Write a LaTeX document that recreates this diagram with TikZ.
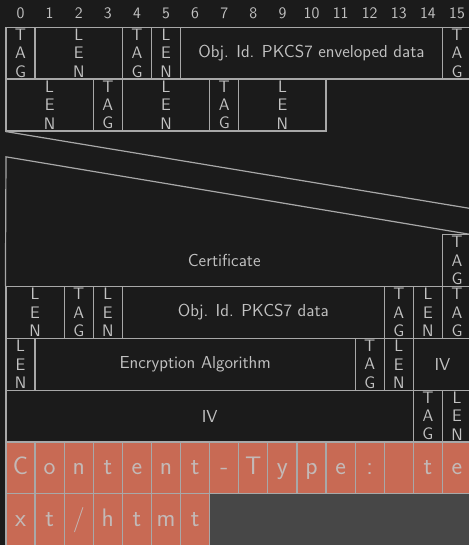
\documentclass[tikz,border=0pt]{standalone}
\usepackage{tikz}
\usetikzlibrary{positioning}
\usepackage{xcolor}
\definecolor{bgdark}{HTML}{1B1B1B}
\definecolor{rulegray}{HTML}{A8A8A8}
\definecolor{txtgray}{HTML}{C2C2C2}
\definecolor{salmon}{HTML}{C86A54}
\definecolor{restgray}{HTML}{474747}
\newlength{\colw}\setlength{\colw}{21.825pt}
\newlength{\rowh}\setlength{\rowh}{38.89pt}
\newcommand{\fieldfont}{\sffamily\fontsize{13}{14.3}\selectfont}
\newcommand{\stackfont}{\sffamily\fontsize{12.5}{13.7}\selectfont}
\newcommand{\tagtxt}{\stackfont T\\A\\G}
\newcommand{\lentxt}{\stackfont L\\E\\N}
\tikzset{
  field/.style    = {draw=rulegray, line width=0.9pt, inner sep=0pt,
                     minimum height=\rowh, minimum width=#1\colw,
                     text=txtgray, align=center, font=\fieldfont},
  field/.default  = 1,
  stack/.style    = {field=#1, font=\stackfont},
  stack/.default  = 1,
  bitnum/.style   = {text=txtgray, font=\sffamily\fontsize{12}{14}\selectfont},
  charcell/.style = {field, fill=salmon, text=txtgray!90!salmon,
                     font=\sffamily\fontsize{19}{21}\selectfont,
                     text height=10pt, text depth=0pt},
  rule/.style     = {draw=rulegray, line width=0.9pt},
}

\begin{document}
\begin{tikzpicture}[x=\colw,y=-\rowh]
\coordinate (frameNW) at (-0.2062,-0.5246);
\coordinate (frameSE) at (15.9107,9.9865);
\useasboundingbox (frameNW) rectangle (frameSE);
\fill[bgdark] (frameNW) rectangle (frameSE);
\clip (frameNW) rectangle (frameSE);
% bit numbers
\foreach \i in {0,...,15}
  \node[bitnum] (b\i) at (\i+0.5,-0.274) {\i};
% first two words
\node[stack] (tag0) at (0.5,0.5) {\tagtxt};
\node[stack=3] (len0) at (2.5,0.5) {\lentxt};
\node[stack] (tag1) at (4.5,0.5) {\tagtxt};
\node[stack] (len1) at (5.5,0.5) {\lentxt};
\node[field=9] (oidenv) at (10.5,0.5) {Obj. Id. PKCS7 enveloped data};
\node[stack] (tag2) at (15.5,0.5) {\tagtxt};
\node[stack=3] (len2) at (1.5,1.5) {\lentxt};
\node[stack] (tag3) at (3.5,1.5) {\tagtxt};
\node[stack=3] (len3) at (5.5,1.5) {\lentxt};
\node[stack] (tag4) at (7.5,1.5) {\tagtxt};
\node[stack=3] (len4) at (9.5,1.5) {\lentxt};
% certificate, skipped words
\node[stack] (tag5) at (15.5,4.5) {\tagtxt};
\node[text=txtgray, font=\fieldfont] (cert) at (7.5,4.5) {Certificate};
\coordinate (skipA) at (16,3.5);
\coordinate (skipB) at (16,4);
\coordinate (certtop) at (0,2.5);
\node[stack=2] (len5) at (1,5.5) {\lentxt};
\draw[rule] (len2.south west) -- (skipA);
\draw[rule] (skipB) -- (certtop) -- (len5.north west);
% content info
\node[stack] (tag6) at (2.5,5.5) {\tagtxt};
\node[stack] (len6) at (3.5,5.5) {\lentxt};
\node[field=9] (oiddata) at (8.5,5.5) {Obj. Id. PKCS7 data};
\node[stack] (tag7) at (13.5,5.5) {\tagtxt};
\node[stack] (len7) at (14.5,5.5) {\lentxt};
\node[stack] (tag8) at (15.5,5.5) {\tagtxt};
\node[stack] (len8) at (0.5,6.5) {\lentxt};
\node[field=11] (encalg) at (6.5,6.5) {Encryption Algorithm};
\node[stack] (tag9) at (12.5,6.5) {\tagtxt};
\node[stack] (len9) at (13.5,6.5) {\lentxt};
\node[field=2] (iv0) at (15,6.5) {IV};
\node[field=14] (iv1) at (7,7.5) {IV};
\node[stack] (tag10) at (14.5,7.5) {\tagtxt};
\node[stack] (len10) at (15.5,7.5) {\lentxt};
% encrypted content, one byte per cell
\foreach \ch [count=\i from 0] in {C,o,n,t,e,n,t,-,T,y,p,e,:,{},t,e}
  \node[charcell] (c\i) at (\i+0.5,8.5) {\ch};
\foreach \ch [count=\i from 0] in {x,t,/,h,t,m,t}
  \node[charcell] (d\i) at (\i+0.5,9.5) {\ch};
\node[field=9, fill=restgray] (rest) at (11.5,9.5) {};
\end{tikzpicture}
\end{document}
